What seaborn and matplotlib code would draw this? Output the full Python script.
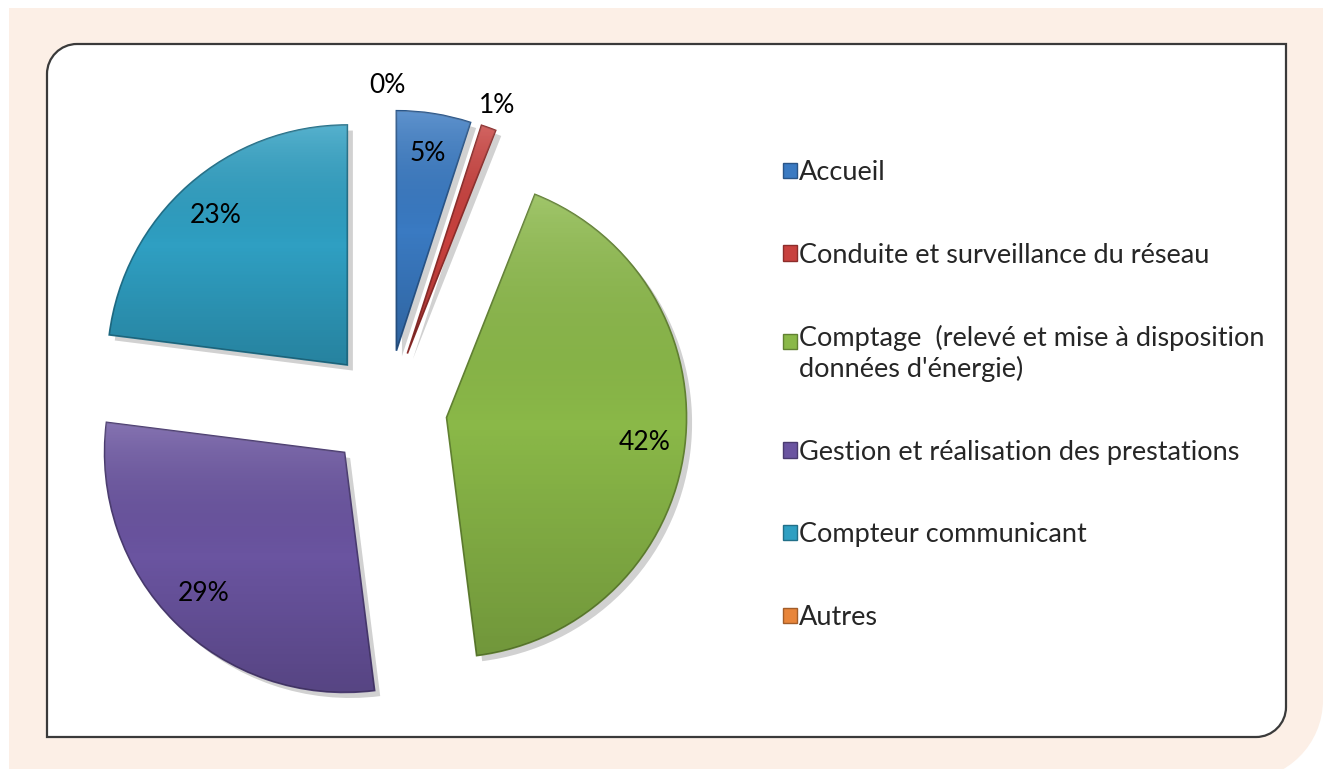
import numpy as np
import pandas as pd
import seaborn as sns
import matplotlib.pyplot as plt
import matplotlib.colors as mcolors
import matplotlib.patheffects as pe
from matplotlib.path import Path
from matplotlib.patches import PathPatch

# données
categories = ["Accueil",
              "Conduite et surveillance du réseau",
              "Comptage  (relevé et mise à disposition\ndonnées d'énergie)",
              "Gestion et réalisation des prestations",
              "Compteur communicant",
              "Autres"]
parts = [5, 1, 42, 29, 23, 0]
couleurs = ["#3a7ac2", "#c8413e", "#8ab848", "#6a54a0", "#2f9fc2", "#e8853a"]

df = pd.DataFrame({"categorie": categories, "part": parts, "couleur": couleurs})

sns.set_theme(style="white")
plt.rcParams["font.family"] = ["Lato", "DejaVu Sans"]

W, H = 1323, 769


def rounded_box(x0, y0, x1, y1, r, rounded):
    # y vers le bas, coins arrondis choisis parmi tl/tr/br/bl
    rr = {c: (r if c in rounded else 0) for c in ("tl", "tr", "br", "bl")}
    k = {c: 0.5523 * v for c, v in rr.items()}
    verts = [(x0 + rr["tl"], y0), (x1 - rr["tr"], y0)]
    codes = [Path.MOVETO, Path.LINETO]
    if rr["tr"]:
        verts += [(x1 - rr["tr"] + k["tr"], y0), (x1, y0 + rr["tr"] - k["tr"]), (x1, y0 + rr["tr"])]
        codes += [Path.CURVE4] * 3
    verts.append((x1, y1 - rr["br"])); codes.append(Path.LINETO)
    if rr["br"]:
        verts += [(x1, y1 - rr["br"] + k["br"]), (x1 - rr["br"] + k["br"], y1), (x1 - rr["br"], y1)]
        codes += [Path.CURVE4] * 3
    verts.append((x0 + rr["bl"], y1)); codes.append(Path.LINETO)
    if rr["bl"]:
        verts += [(x0 + rr["bl"] - k["bl"], y1), (x0, y1 - rr["bl"] + k["bl"]), (x0, y1 - rr["bl"])]
        codes += [Path.CURVE4] * 3
    verts.append((x0, y0 + rr["tl"])); codes.append(Path.LINETO)
    if rr["tl"]:
        verts += [(x0, y0 + rr["tl"] - k["tl"]), (x0 + rr["tl"] - k["tl"], y0), (x0 + rr["tl"], y0)]
        codes += [Path.CURVE4] * 3
    verts.append(verts[0]); codes.append(Path.CLOSEPOLY)
    return Path(verts, codes)


fig = plt.figure(figsize=(W / 100, H / 100), dpi=100)
fig.patch.set_facecolor("white")

bg = fig.add_axes([0, 0, 1, 1])
bg.set_xlim(0, W)
bg.set_ylim(H, 0)
bg.axis("off")
bg.add_patch(PathPatch(rounded_box(9, 8, W, 780, 80, {"br"}), facecolor="#fcefe6", edgecolor="none"))
bg.add_patch(PathPatch(rounded_box(47, 44, 1286, 737, 30, {"tl", "br"}),
                       facecolor="white", edgecolor="#3a3a3a", linewidth=1.6))

# camembert éclaté
cx, cy, rad = 387, 410, 240
half = 1.3 * rad
ax = fig.add_axes([(cx - half) / W, (H - cy - half) / H, 2 * half / W, 2 * half / H])

wedges, texts, autotexts = ax.pie(
    df["part"], colors=df["couleur"], startangle=90, counterclock=False,
    explode=[0.25] * len(df), autopct=lambda p: f"{p:.0f}%", pctdistance=0.83,
    radius=1, textprops=dict(fontsize=19, color="black"))
ax.set_xlim(-1.3, 1.3)
ax.set_ylim(-1.3, 1.3)
ax.set_aspect("equal")
ax.axis("off")

# léger dégradé vertical dans chaque part (effet relief)
grad = np.linspace(1, 0, 64).reshape(-1, 1)
shade = mcolors.LinearSegmentedColormap.from_list(
    "shade", [(0, 0, 0, 0.18), (0, 0, 0, 0.0), (1, 1, 1, 0.18)])

for w, c, p in zip(wedges, df["couleur"], df["part"]):
    if p == 0:
        w.set_linewidth(0)
        continue
    dark = tuple(v * 0.7 for v in mcolors.to_rgb(c))
    w.set_edgecolor(dark)
    w.set_linewidth(1.2)
    w.set_path_effects([pe.SimplePatchShadow(offset=(4, -4), shadow_rgbFace="k", alpha=0.2),
                        pe.Normal()])
    bb = w.get_path().get_extents()
    im = ax.imshow(grad, cmap=shade, aspect="auto", interpolation="bilinear",
                   extent=(bb.x0, bb.x1, bb.y0, bb.y1), zorder=w.get_zorder() + 0.1)
    im.set_clip_path(w)

ax.set_xlim(-1.3, 1.3)
ax.set_ylim(-1.3, 1.3)

# petites parts : étiquette à l'extérieur
for w, t, p in zip(wedges, autotexts, df["part"]):
    t.set_zorder(5)
    if p < 3:
        th = np.deg2rad((w.theta1 + w.theta2) / 2)
        x0, y0 = w.center
        t.set_position((x0 + 1.1 * np.cos(th), y0 + 1.1 * np.sin(th)))

leg = fig.legend(wedges, df["categorie"], loc="upper left",
                 bbox_to_anchor=(783 / W, 1 - 160 / H), frameon=False, fontsize=19.5,
                 borderpad=0, borderaxespad=0, handlelength=0.5, handleheight=0.5,
                 handletextpad=0.1, labelspacing=2.13)
for h, c in zip(leg.legend_handles, df["couleur"]):
    h.set_path_effects([])
    h.set_edgecolor(tuple(v * 0.7 for v in mcolors.to_rgb(c)))
    h.set_linewidth(1.0)

# entrée sur deux lignes : repère aligné sur la première ligne
item = leg._legend_handle_box.get_children()[0].get_children()[2]
item.align = "top"
hd = leg.legend_handles[2]
hd.set_y(hd.get_y() - 0.3 * 19.5)

fig.savefig("out.png", dpi=100, facecolor=fig.get_facecolor())
